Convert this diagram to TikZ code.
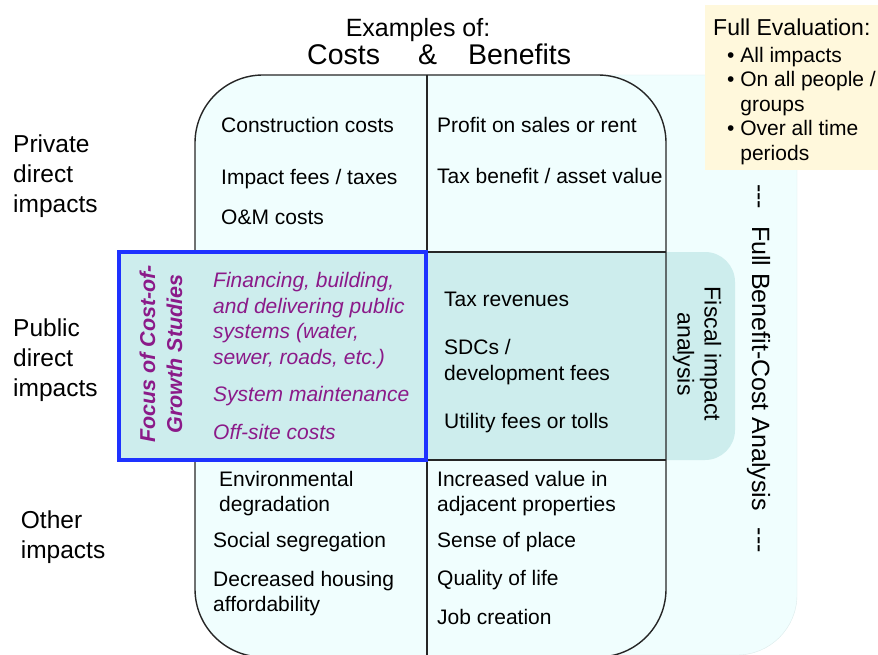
\documentclass[tikz,border=0pt]{standalone}
\usepackage{fontspec}
\setmainfont{Liberation Sans}
\usepackage{tikz}
\usetikzlibrary{positioning}

\definecolor{paleaqua}{HTML}{F0FEFE}
\definecolor{paleedge}{HTML}{DCEBEB}
\definecolor{pubteal}{HTML}{CDEDED}
\definecolor{focusblue}{HTML}{1E32FF}
\definecolor{focuspurple}{HTML}{8B1A89}
\definecolor{notecream}{HTML}{FFF8DC}

\begin{document}
\begin{tikzpicture}[x=1pt,y=-1pt,
    grid/.style={line width=1.4pt,draw=black!85},
    cell/.style={anchor=base west,inner sep=0pt,align=left,
                 font=\fontsize{21}{25.5}\selectfont},
    focus/.style={cell,text=focuspurple,font=\fontsize{21}{25.5}\selectfont\itshape},
    rowlabel/.style={cell,font=\fontsize{24.5}{30}\selectfont},
    sideways/.style={inner sep=0pt,align=center}]
  \useasboundingbox (0,0) rectangle (878,655);

  % back panels
  \filldraw[fill=paleaqua,draw=paleedge,rounded corners=60pt] (300,75) rectangle (797,655);
  \fill[notecream] (705,5) rectangle (878,170);
  \fill[paleaqua,rounded corners=68pt] (195,75) rectangle (666,657);
  \fill[pubteal,rounded corners=30pt] (620,252) rectangle (735,460);
  \fill[pubteal] (427,252) rectangle (666,460);

  % the 2x3 grid
  \draw[grid,rounded corners=68pt] (195,75) rectangle (666,657);
  \draw[grid] (427,75) -- (427,657) (195,252) -- (666,252) (195,460) -- (666,460);
  \filldraw[fill=pubteal,draw=focusblue,line width=4pt] (119,252) rectangle (426,460);

  % headings (multi-line nodes sit on their last baseline)
  \node[anchor=base,inner sep=0pt,font=\fontsize{25}{30}\selectfont] (examples) at (418,36.7) {Examples of:};
  \node[anchor=base west,inner sep=0pt,font=\fontsize{28.5}{34}\selectfont] (costsbens) at (307,64.3)
       {Costs\hspace{38pt}\&\hspace{31pt}Benefits};

  \node[rowlabel] (private) at (13,213) {Private\\direct\\impacts};
  \node[rowlabel] (public)  at (13,396.7) {Public\\direct\\impacts};
  \node[rowlabel] (other)   at (20.7,558.3) {Other\\impacts};

  % private row
  \node[cell] (constr) at (221,133) {Construction costs};
  \node[cell] (impfee) at (221,185) {Impact fees / taxes};
  \node[cell] (om)     at (221,225) {O\&M costs};
  \node[cell] (profit) at (437,133) {Profit on sales or rent};
  \node[cell] (taxben) at (437,184) {Tax benefit / asset value};

  % public row
  \node[sideways,rotate=90,text=focuspurple,
        font=\fontsize{21.5}{27}\selectfont\bfseries\itshape] (focuslbl) at (161,354)
       {Focus of Cost-of-\\Growth Studies};
  \node[focus] (financing) at (213,364)
       {Financing, building,\\and delivering public\\systems (water,\\sewer, roads, etc.)};
  \node[focus] (sysmaint) at (213,401.7) {System maintenance};
  \node[focus] (offsite)  at (213,439)   {Off-site costs};
  \node[cell] (taxrev)  at (444,306.7) {Tax revenues};
  \node[cell] (sdc)     at (444,380)   {SDCs /\\development fees};
  \node[cell] (utility) at (444,428.3) {Utility fees or tolls};
  \node[sideways,rotate=-90,font=\fontsize{23}{27}\selectfont] (fiscal) at (697,354)
       {Fiscal impact\\analysis};

  % other row
  \node[cell] (envdeg)  at (219,511.7) {Environmental\\degradation};
  \node[cell] (socseg)  at (213,547.7) {Social segregation};
  \node[cell] (housing) at (213,611.7) {Decreased housing\\affordability};
  \node[cell] (incval)  at (437,511.7) {Increased value in\\adjacent properties};
  \node[cell] (sense)   at (437,547.7) {Sense of place};
  \node[cell] (quality) at (437,585.7) {Quality of life};
  \node[cell] (jobs)    at (437,624.3) {Job creation};

  % whole-analysis side label and note
  \node[sideways,rotate=-90,anchor=base,font=\fontsize{25}{30}\selectfont] (fullbca) at (752,368.5)
       {-{}-{}-\hspace{17pt}Full Benefit-Cost Analysis\hspace{17pt}-{}-{}-};
  \node[cell,font=\fontsize{23}{28}\selectfont] (evalhead) at (713,36) {Full Evaluation:};
  \node[cell,font=\fontsize{21}{24.6}\selectfont] (evallist) at (727,160.5)
       {• All impacts\\• On all people /\\\hphantom{• }groups\\• Over all time\\\hphantom{• }periods};
\end{tikzpicture}
\end{document}
